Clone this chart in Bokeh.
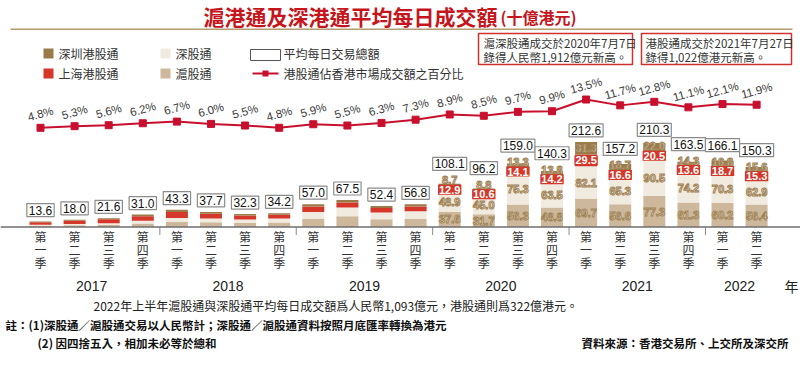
from bokeh.plotting import figure
from bokeh.models import Range1d, ColumnDataSource, Label, BoxAnnotation, Span
from bokeh.core.properties import value
from bokeh.embed import file_html
from bokeh.resources import INLINE

# ---------------- data ----------------
quarters = ["第一季", "第二季", "第三季", "第四季"] * 5 + ["第一季", "第二季"]
years = ["2017", "2018", "2019", "2020", "2021", "2022"]
year_counts = [4, 4, 4, 4, 4, 2]
total = [13.6, 18.0, 21.6, 31.0, 43.3, 37.7, 32.3, 34.2, 57.0, 67.5, 52.4, 56.8,
         108.1, 96.2, 159.0, 140.3, 212.6, 157.2, 210.3, 163.5, 166.1, 150.3]
hu = [3.2, 4.2, 5.6, 8.8, 12.5, 11.8, 10.5, 11.5, 20.0, 27.0, 19.5, 20.0,
      37.6, 31.7, 56.3, 48.8, 69.7, 56.6, 77.3, 61.3, 60.2, 56.4]          # 滬股通
sz = [2.4, 3.2, 4.0, 6.8, 9.8, 9.5, 8.5, 9.5, 17.5, 22.0, 17.0, 19.5,
      48.9, 45.0, 75.3, 63.5, 82.1, 65.3, 90.5, 74.2, 70.3, 62.9]          # 深股通
sh_hk = [6.3, 8.5, 9.5, 11.5, 15.0, 11.6, 9.5, 9.5, 13.5, 12.5, 11.0, 11.5,
         12.9, 10.6, 14.1, 14.2, 29.5, 16.6, 20.5, 13.6, 18.7, 15.3]       # 上海港股通
sz_hk = [1.7, 2.1, 2.5, 3.9, 6.0, 4.8, 3.8, 3.7, 6.0, 6.0, 4.9, 5.8,
         8.7, 8.8, 13.3, 13.8, 31.3, 18.7, 22.0, 14.3, 16.8, 15.6]         # 深圳港股通
pct = [4.8, 5.3, 5.6, 6.2, 6.7, 6.0, 5.5, 4.8, 5.9, 5.5, 6.3, 7.3,
       8.9, 8.5, 9.7, 9.9, 13.5, 11.7, 12.8, 11.1, 12.1, 11.9]
labeled_from = 12   # segment values are printed from 2020 Q1 onwards

# ---------------- styles ----------------
C_HU, C_SZ, C_SHHK, C_SZHK = "#CDB89C", "#F1EADF", "#D5372A", "#9B7A4A"
C_LINE = "#C8102E"
C_TITLE = "#C4161C"
CJK_NAME = "Noto Sans CJK TC"
CJK = value(CJK_NAME)
NUM = value("Liberation Sans")

W, H = 800, 366
Y0, Y1 = -348.75, 566.25
ppu = H / (Y1 - Y0)  # pixels per data unit

p = figure(width=W, height=H, output_backend="svg", toolbar_location=None,
           x_range=Range1d(-1.173, 22.287), y_range=Range1d(Y0, Y1),
           x_axis_type=None, y_axis_type=None, min_border=0,
           outline_line_color=None, background_fill_color="white",
           border_fill_color="white")
p.grid.visible = False
p.title.visible = False
p.extra_y_ranges = {"pct": Range1d(-68.65, 43.97)}

n = len(total)
idx = list(range(n))
src = ColumnDataSource(dict(x=idx, hu=hu, sz=sz, sh_hk=sh_hk, sz_hk=sz_hk,
                            total=total, pct=pct, q=quarters,
                            pct_txt=[f"{v:.1f}%" for v in pct],
                            tot_txt=[f"{v:.1f}" for v in total]))

# stacked bars
p.vbar_stack(["hu", "sz", "sh_hk", "sz_hk"], x="x", width=0.645, source=src,
             color=[C_HU, C_SZ, C_SHHK, C_SZHK], line_color=None)

# baseline axis line + year separators
p.add_layout(Span(location=0, dimension="width", line_color="#6E6E6E", line_width=1.5))
bounds, acc = [], 0
for c in year_counts[:-1]:
    acc += c
    bounds.append(acc - 0.5)
p.segment(x0=bounds, x1=bounds, y0=[0] * len(bounds), y1=[-8 / ppu] * len(bounds),
          line_color="#8A8A8A", line_width=1)

# quarter labels (vertical)
for k, off in enumerate([9.5, 22.5, 35.5]):
    p.text(x=idx, y=[0] * n, text=[q[k] for q in quarters], y_offset=off,
           text_font=CJK, text_font_size="12px", text_color="#333333",
           text_align="center", text_baseline="middle")

# year labels
centers, acc = [], 0
for c in year_counts:
    centers.append(acc + (c - 1) / 2)
    acc += c
p.text(x=centers, y=[0] * len(centers), text=years, y_offset=59,
       text_font=NUM, text_font_size="14px", text_color="#222222",
       text_align="center", text_baseline="middle")

# segment labels with spacing
seg_x, seg_y, seg_t, red_x, red_y, red_t = [], [], [], [], [], []
top_px = []
for i in range(n):
    tp = total[i] * ppu
    if i >= labeled_from:
        vals = [hu[i], sz[i], sh_hk[i], sz_hk[i]]
        lo, prev, pos = 0.0, None, []
        for v in vals:
            c = (lo + v / 2) * ppu
            if prev is not None:
                c = max(c, prev + 9.5)
            pos.append(c)
            prev = c
            lo += v
        for j, (v, c) in enumerate(zip(vals, pos)):
            if j == 2:
                red_x.append(i); red_y.append(c / ppu); red_t.append(f"{v:.1f}")
            else:
                seg_x.append(i); seg_y.append(c / ppu); seg_t.append(f"{v:.1f}")
        tp = max(tp, pos[-1] + 5)
    top_px.append(tp / ppu)
src.data["top"] = top_px

p.text(x=seg_x, y=seg_y, text=seg_t, text_font=NUM, text_font_size="11px",
       text_font_style="bold", text_color="#FFFFFF", text_outline_color="#A08254",
       text_align="center", text_baseline="middle")
p.text(x=red_x, y=red_y, text=red_t, text_font=NUM, text_font_size="11px",
       text_font_style="bold", text_color="#FFFFFF", background_fill_color=C_SHHK,
       padding=1, text_align="center", text_baseline="middle")

# totals in boxes
p.text(x="x", y="top", text="tot_txt", source=src, y_offset=-5,
       text_font=NUM, text_font_size="12px", text_color="#111111",
       text_align="center", text_baseline="bottom",
       background_fill_color="white", border_line_color="#8C8C8C",
       border_line_width=1.2, padding=2)

# percentage line
p.line("x", "pct", source=src, y_range_name="pct", line_color=C_LINE, line_width=2)
p.scatter("x", "pct", source=src, y_range_name="pct", marker="square", size=7,
          fill_color=C_LINE, line_color=C_LINE)
p.text(x="x", y="pct", text="pct_txt", source=src, y_range_name="pct", y_offset=-14,
       angle=0.27, text_font=NUM, text_font_size="11.5px", text_color="#3A3A3A",
       text_align="center", text_baseline="middle")


def sy(page_y):
    return H - page_y


def box(l, r, t, b, fill, line=None, lw=1):
    p.add_layout(BoxAnnotation(left=l, right=r, top=t, bottom=b,
                               left_units="screen", right_units="screen",
                               top_units="screen", bottom_units="screen",
                               fill_color=fill, fill_alpha=1,
                               line_color=line, line_alpha=1, line_width=lw))


def label(x, y, text, size="12px", color="#333333", font=CJK_NAME, style="normal",
          align="left"):
    p.add_layout(Label(x=x, y=y, x_units="screen", y_units="screen", text=text,
                       text_font=font, text_font_size=size, text_color=color,
                       text_font_style=style, text_align=align,
                       text_baseline="middle"))


label(798, sy(285), "年", size="14px", color="#222222", align="right")

# title
label(203, sy(15.5), "滬港通及深港通平均每日成交額", size="21px", color=C_TITLE,
      style="bold")
label(500, sy(16.5), "(十億港元)", size="16px", color=C_TITLE, style="bold")
box(10, 792, sy(28), sy(29.5), "#B49B74")

# legend
box(43, 53, sy(48), sy(58), C_SZHK)
box(43, 53, sy(68), sy(78), C_SHHK)
box(160, 170, sy(48), sy(58), C_SZ)
box(160, 170, sy(68), sy(78), C_HU)
box(250, 280, sy(49), sy(60), "white", "#555555", 1)
box(252, 278, sy(72), sy(74), C_LINE)
box(262, 268, sy(70), sy(76), C_LINE)
label(58, sy(53), "深圳港股通")
label(58, sy(73), "上海港股通")
label(175, sy(53), "深股通")
label(175, sy(73), "滬股通")
label(283, sy(53), "平均每日交易總額")
label(283, sy(73), "港股通佔香港市場成交額之百分比")

# note boxes
box(478, 632, sy(33), sy(64), "white", "#D0312D", 1.5)
box(641, 791, sy(33), sy(64), "white", "#D0312D", 1.5)
label(483, sy(42.5), "滬深股通成交於2020年7月7日", size="11.5px")
label(483, sy(56), "錄得人民幣1,912億元新高。", size="11.5px")
label(645, sy(42.5), "港股通成交於2021年7月27日", size="11.5px")
label(645, sy(56), "錄得1,022億港元新高。", size="11.5px")

# footnotes
label(93, sy(305), "2022年上半年滬股通與深股通平均每日成交額爲人民幣1,093億元，港股通則爲322億港元。",
      size="12px", color="#222222")
label(5, sy(324), "註：(1)深股通／滬股通交易以人民幣計；深股通／滬股通資料按照月底匯率轉換為港元",
      size="11.5px", color="#111111", style="bold")
label(37, sy(342), "(2) 因四捨五入，相加未必等於總和", size="11.5px", color="#111111",
      style="bold")
label(788, sy(342), "資料來源：香港交易所、上交所及深交所", size="11.5px",
      color="#111111", style="bold", align="right")

open("out.html", "w").write(file_html(p, INLINE))
